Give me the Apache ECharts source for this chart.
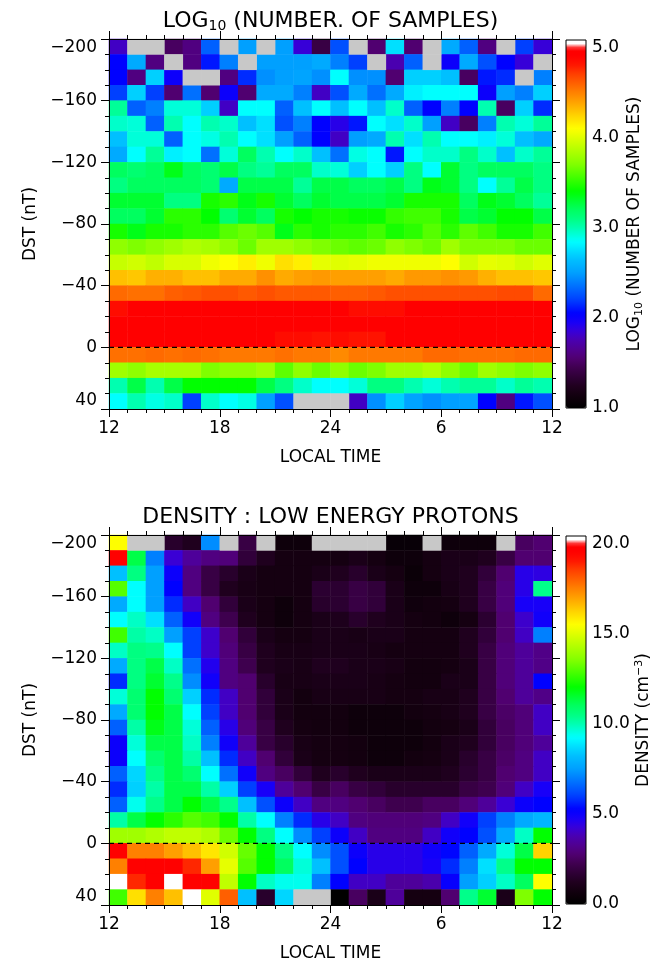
<!DOCTYPE html>
<html>
<head>
<meta charset="utf-8">
<script src="https://cdn.jsdelivr.net/npm/echarts@6/dist/echarts.min.js"></script>
<style>
  html, body { margin: 0; padding: 0; background: #ffffff; }
  #chart { width: 666px; height: 963px; }
</style>
</head>
<body>
<div id="chart"></div>
<script>
// Local-time bins (hour at the start of each 1-hour bin), noon to noon
const lstHours = [12, 13, 14, 15, 16, 17, 18, 19, 20, 21, 22, 23, 0, 1, 2, 3, 4, 5, 6, 7, 8, 9, 10, 11];
// Dst bins (lower edge, nT), from the most disturbed at the top to positive values at the bottom
const dstBins = [-200, -190, -180, -170, -160, -150, -140, -130, -120, -110, -100, -90,
                 -80, -70, -60, -50, -40, -30, -20, -10, 0, 10, 20, 30];
// Labels of the major local-time ticks (12, 18, 24, 30, 36 hours from midnight of day 0)
const localTimeTicks = ['12', '18', '24', '6', '12'];
// Dst level drawn as a dashed reference line
const dstReference = 0;

// log10(number of samples) per cell; null = no samples
const logSamples = [
  [1.8, null, null, 1.5, 1.6, 2.3, null, 2.5, null, 2.5, 1.85, 1.4, 2.25, null, 1.55, 2.75, 1.55, null, 2.55, 2.3, 1.6, null, 2.2, 1.85],
  [2.05, 2.55, 1.6, null, 1.6, 2.1, 2.4, null, 2.5, 2.5, 2.5, 2.55, 2.4, 2.2, null, 1.75, 2.3, null, 2.0, 2.55, 2.25, 2.05, 1.85, null],
  [2.05, 1.6, 2.7, 2.0, null, null, 1.6, 2.15, 2.45, 2.5, 2.52, 2.45, 2.85, 2.45, 2.45, 1.55, 2.7, 2.7, 2.65, 1.5, 2.1, 2.15, null, 2.4],
  [2.2, 2.7, 2.2, 1.55, 2.35, 1.55, 2.0, 1.55, 2.55, 2.55, 2.4, 1.8, 2.25, 2.55, 2.35, 2.55, 2.8, 2.85, 2.85, 2.85, 2.0, 2.5, 2.4, 2.7],
  [3.05, 2.3, 2.4, 2.92, 2.92, 2.7, 1.8, 2.85, 2.85, 2.3, 2.65, 2.85, 2.65, 2.85, 2.65, 2.95, 2.3, 2.05, 2.4, 2.05, 3.0, 1.5, 2.7, 2.15],
  [2.95, 2.92, 2.3, 3.0, 2.85, 3.0, 2.95, 2.65, 2.75, 2.25, 2.4, 2.05, 1.9, 2.1, 2.85, 2.75, 2.95, 2.5, 1.8, 1.5, 2.4, 3.0, 2.92, 3.05],
  [2.65, 2.92, 2.92, 2.3, 2.85, 2.9, 3.0, 2.85, 2.75, 2.5, 2.3, 2.05, 1.8, 2.5, 2.55, 3.0, 2.75, 3.0, 2.85, 2.85, 2.8, 2.92, 2.65, 2.55],
  [2.55, 2.85, 3.05, 2.8, 2.85, 2.35, 2.92, 3.2, 3.0, 2.85, 2.95, 2.65, 2.35, 2.9, 2.85, 2.1, 2.85, 2.95, 2.95, 3.1, 2.95, 2.65, 2.95, 3.05],
  [3.2, 3.15, 3.2, 3.35, 3.2, 3.15, 3.25, 3.1, 3.05, 3.2, 3.2, 2.95, 2.92, 2.7, 2.85, 2.7, 3.1, 2.85, 3.3, 3.1, 3.2, 3.2, 3.2, 3.1],
  [3.1, 3.2, 3.2, 3.2, 3.2, 3.15, 2.55, 3.25, 3.25, 3.25, 3.05, 3.25, 3.25, 3.2, 3.2, 3.25, 3.1, 3.35, 3.3, 3.1, 2.85, 3.05, 3.25, 3.1],
  [3.3, 3.3, 3.3, 3.1, 3.1, 3.45, 3.5, 3.35, 3.45, 3.3, 3.2, 3.3, 3.25, 3.25, 3.25, 3.3, 3.45, 3.45, 3.45, 3.2, 3.35, 3.3, 3.2, 3.05],
  [3.2, 3.2, 3.3, 3.5, 3.5, 3.4, 3.15, 3.3, 3.2, 3.45, 3.4, 3.45, 3.45, 3.42, 3.42, 3.52, 3.55, 3.55, 3.45, 3.25, 3.3, 3.4, 3.4, 3.25],
  [3.45, 3.35, 3.45, 3.45, 3.5, 3.5, 3.6, 3.65, 3.6, 3.35, 3.5, 3.45, 3.5, 3.5, 3.55, 3.45, 3.5, 3.6, 3.5, 3.62, 3.55, 3.45, 3.45, 3.55],
  [3.75, 3.7, 3.75, 3.8, 3.85, 3.82, 3.75, 3.65, 3.8, 3.8, 3.75, 3.7, 3.65, 3.62, 3.65, 3.75, 3.7, 3.65, 3.8, 3.7, 3.7, 3.7, 3.65, 3.65],
  [3.92, 3.95, 3.9, 3.97, 3.97, 4.05, 4.1, 4.15, 4.05, 4.2, 4.15, 4.02, 4.0, 4.02, 4.05, 4.05, 4.05, 4.05, 4.1, 3.95, 4.02, 4.0, 3.95, 4.0],
  [4.3, 4.28, 4.35, 4.35, 4.3, 4.3, 4.37, 4.37, 4.45, 4.37, 4.4, 4.42, 4.4, 4.4, 4.4, 4.37, 4.42, 4.42, 4.45, 4.42, 4.35, 4.3, 4.3, 4.28],
  [4.57, 4.55, 4.55, 4.6, 4.62, 4.65, 4.65, 4.62, 4.65, 4.62, 4.62, 4.62, 4.6, 4.6, 4.62, 4.65, 4.65, 4.65, 4.65, 4.65, 4.65, 4.67, 4.67, 4.57],
  [4.85, 4.92, 4.92, 4.92, 4.92, 4.92, 4.92, 4.92, 4.92, 4.92, 4.92, 4.92, 4.92, 4.85, 4.85, 4.85, 4.92, 4.92, 4.92, 4.92, 4.92, 4.92, 4.92, 4.92],
  [4.95, 4.95, 4.95, 4.95, 4.95, 4.95, 4.95, 4.95, 4.95, 4.95, 4.95, 4.95, 4.95, 4.95, 4.95, 4.95, 4.95, 4.95, 4.95, 4.95, 4.95, 4.95, 4.95, 4.95],
  [4.92, 4.92, 4.92, 4.92, 4.92, 4.92, 4.92, 4.92, 4.92, 4.85, 4.85, 4.82, 4.85, 4.82, 4.82, 4.92, 4.92, 4.92, 4.92, 4.92, 4.92, 4.92, 4.92, 4.92],
  [4.55, 4.55, 4.57, 4.55, 4.57, 4.55, 4.52, 4.52, 4.52, 4.55, 4.52, 4.52, 4.47, 4.52, 4.52, 4.52, 4.52, 4.57, 4.57, 4.55, 4.55, 4.55, 4.57, 4.57],
  [3.8, 3.75, 3.82, 3.82, 3.82, 3.7, 3.75, 3.75, 3.8, 3.62, 3.75, 3.65, 3.75, 3.65, 3.7, 3.8, 3.8, 3.85, 3.75, 3.65, 3.8, 3.75, 3.7, 3.75],
  [3.0, 3.25, 3.0, 3.25, 3.4, 3.4, 3.4, 3.4, 3.25, 3.1, 2.95, 2.85, 2.85, 2.92, 3.1, 3.1, 3.0, 2.92, 3.0, 3.05, 3.05, 2.95, 3.05, 3.0],
  [2.85, 3.0, 2.9, 2.95, 2.2, 2.95, 2.85, 2.9, 2.5, 2.25, null, null, null, 1.8, 2.45, 2.7, 2.52, 2.45, 2.5, 2.52, 2.05, 1.6, 2.1, 2.25]
];

// Low-energy proton density (cm^-3) per cell; null = no data
const density = [
  [15.5, null, null, 1.5, 1.2, 7.2, null, 2.0, null, 0.5, 0.5, null, null, null, null, 0.3, 0.3, null, 0.5, 0.5, 0.5, null, 2.5, 2.75],
  [19.5, 11.25, 7.0, 4.2, 3.4, 3.0, 2.9, 1.8, 1.2, 0.8, 0.8, 0.8, 0.8, 1.0, 0.8, 0.5, 0.5, 0.8, 1.0, 1.0, 1.2, 2.0, 2.75, 2.75],
  [8.25, 10.5, 7.5, 5.0, 3.0, 2.0, 1.5, 1.0, 0.8, 0.8, 0.8, 1.0, 1.2, 1.5, 1.0, 0.8, 0.4, 0.8, 1.0, 1.2, 1.8, 2.75, 4.5, 4.4],
  [13.0, 9.25, 7.5, 5.25, 3.0, 2.0, 1.2, 0.9, 0.8, 0.8, 0.8, 1.6, 1.6, 2.0, 1.8, 1.0, 0.5, 0.5, 0.9, 1.2, 2.0, 2.9, 4.5, 10.4],
  [7.75, 9.25, 7.5, 5.75, 4.0, 2.75, 1.8, 1.0, 0.8, 0.5, 0.8, 1.5, 1.6, 2.0, 1.8, 1.0, 0.6, 0.7, 0.8, 1.2, 2.0, 2.9, 4.75, 4.75],
  [9.25, 9.8, 8.75, 6.5, 4.9, 3.0, 2.2, 1.2, 0.8, 0.5, 0.8, 1.0, 1.1, 1.5, 1.2, 1.0, 0.8, 0.7, 0.5, 0.8, 1.6, 2.75, 4.1, 4.9],
  [12.75, 10.1, 9.8, 7.5, 6.0, 4.1, 2.75, 1.8, 1.0, 0.8, 0.8, 1.0, 1.0, 0.9, 1.0, 1.0, 0.8, 0.8, 0.8, 1.2, 1.8, 2.75, 4.0, 7.0],
  [9.8, 10.5, 10.4, 9.25, 6.0, 4.1, 2.9, 2.0, 1.2, 0.9, 0.9, 1.0, 1.0, 1.0, 0.9, 0.8, 0.8, 0.8, 0.8, 1.2, 2.0, 2.9, 3.4, 3.1],
  [7.75, 10.5, 11.25, 9.8, 6.75, 4.6, 3.0, 2.2, 1.2, 1.0, 0.9, 1.2, 1.2, 1.0, 1.0, 0.9, 0.7, 0.7, 0.8, 1.0, 2.0, 2.9, 3.4, 3.1],
  [5.75, 10.5, 11.5, 10.4, 7.2, 4.9, 3.0, 2.75, 1.5, 0.9, 0.9, 1.0, 1.0, 1.0, 0.9, 0.8, 0.7, 0.7, 1.0, 1.0, 2.0, 2.9, 3.4, 5.25],
  [9.6, 10.75, 12.0, 10.75, 8.5, 5.75, 4.0, 2.75, 1.8, 1.0, 0.7, 0.9, 0.9, 0.9, 0.9, 0.8, 0.8, 0.9, 0.9, 1.2, 2.0, 2.75, 3.4, 3.1],
  [7.75, 10.75, 12.0, 11.25, 9.25, 6.0, 4.0, 2.75, 1.8, 1.0, 0.7, 0.7, 0.7, 0.5, 0.5, 0.5, 0.7, 0.8, 0.9, 1.2, 2.0, 2.6, 2.9, 4.0],
  [6.5, 10.1, 11.75, 11.25, 9.6, 6.5, 4.5, 2.9, 2.0, 1.2, 0.8, 0.7, 0.7, 0.5, 0.5, 0.5, 0.5, 0.7, 0.8, 1.0, 1.8, 2.5, 2.9, 4.0],
  [5.0, 9.6, 11.25, 11.25, 9.8, 7.0, 4.9, 3.4, 2.0, 1.5, 0.9, 0.8, 0.8, 0.7, 0.5, 0.5, 0.5, 0.7, 1.0, 1.2, 1.8, 2.5, 2.9, 3.4],
  [5.0, 9.25, 10.75, 11.25, 10.1, 8.25, 5.75, 4.0, 2.75, 1.8, 1.0, 0.8, 0.8, 0.7, 0.5, 0.5, 0.7, 0.8, 1.0, 1.5, 2.0, 2.6, 3.0, 4.0],
  [6.5, 8.6, 10.4, 11.25, 10.75, 9.25, 6.75, 4.9, 3.0, 2.5, 1.8, 1.2, 1.5, 1.2, 1.0, 1.0, 1.0, 1.0, 1.2, 1.6, 2.0, 2.75, 3.0, 4.0],
  [5.75, 8.5, 10.1, 11.25, 11.25, 10.1, 8.5, 6.0, 4.75, 3.4, 2.75, 2.0, 2.5, 2.0, 1.8, 1.5, 1.5, 1.5, 1.5, 2.0, 2.2, 2.9, 4.0, 4.75],
  [6.5, 9.4, 10.4, 11.25, 12.0, 11.25, 10.4, 8.25, 6.25, 5.0, 4.0, 3.0, 3.0, 2.75, 2.5, 2.2, 2.2, 2.5, 2.5, 2.9, 3.4, 4.2, 5.0, 5.25],
  [10.1, 11.25, 12.0, 12.5, 13.0, 12.75, 12.0, 10.1, 9.25, 7.0, 5.75, 4.5, 4.0, 3.0, 2.9, 2.9, 2.9, 3.0, 4.0, 4.9, 6.0, 7.0, 7.75, 8.0],
  [14.0, 14.0, 14.25, 14.5, 14.5, 14.25, 13.25, 12.0, 10.5, 9.25, 7.2, 6.0, 5.0, 4.0, 3.0, 3.0, 3.0, 4.0, 4.9, 5.25, 6.25, 7.75, 9.8, 12.0],
  [19.5, 17.5, 17.5, 17.0, 16.5, 15.9, 14.75, 13.2, 12.0, 10.5, 9.25, 7.2, 6.25, 5.0, 4.5, 4.5, 4.5, 4.9, 5.3, 6.5, 7.75, 9.6, 11.25, 16.2],
  [17.5, 19.5, 19.5, 19.5, 18.8, 17.0, 15.1, 13.0, 12.0, 11.0, 9.6, 8.25, 6.25, 5.25, 4.5, 4.5, 4.5, 4.75, 5.75, 7.0, 8.75, 10.4, 12.0, 12.0],
  [21.0, 18.8, 19.5, 21.0, 19.5, 19.5, 14.5, 12.0, 9.8, 9.4, 9.4, 7.0, 5.25, 4.0, 4.0, 3.4, 3.4, 3.7, 5.1, 7.5, 8.5, 9.8, 11.0, 15.5],
  [12.75, 16.0, 17.5, 16.5, 21.0, 15.0, 18.0, 8.25, 1.5, 8.6, null, null, 0.0, 2.5, 1.0, 3.4, 0.8, 0.8, 2.75, 10.4, 11.5, 1.0, 13.5, 12.0]
];

// ---------------------------------------------------------------------------
// Styling
const FONT = 'DejaVu Sans';
const INK = '#000000';
const NO_DATA = '#c8c8c8';

// Rainbow + white colour table (fraction of the colour-bar range -> colour)
const paletteStops = [
  [0.000, '#000000'], [0.037, '#140010'], [0.061, '#200020'], [0.086, '#300038'],
  [0.110, '#400050'], [0.135, '#500070'], [0.159, '#500090'], [0.184, '#4a00b0'],
  [0.208, '#3800d8'], [0.233, '#1800f8'], [0.257, '#0000ff'], [0.294, '#0040ff'],
  [0.343, '#0080ff'], [0.368, '#00a0ff'], [0.404, '#00c0ff'], [0.429, '#00e0ff'],
  [0.453, '#00ffff'], [0.490, '#00ffb0'], [0.515, '#00ff80'], [0.539, '#00ff60'],
  [0.564, '#00ff30'], [0.588, '#00ff00'], [0.625, '#40ff00'], [0.662, '#80ff00'],
  [0.686, '#a0ff00'], [0.711, '#c0ff00'], [0.735, '#e0ff00'], [0.760, '#ffff00'],
  [0.784, '#ffe000'], [0.809, '#ffc000'], [0.833, '#ffa000'], [0.858, '#ff8000'],
  [0.882, '#ff6000'], [0.907, '#ff4000'], [0.931, '#ff1800'], [0.956, '#ff0000'],
  [0.980, '#ff0000'], [0.9815, '#ffffff'], [1.000, '#ffffff']
];

function hexToRgb(h) {
  const n = parseInt(h.slice(1), 16);
  return [(n >> 16) & 255, (n >> 8) & 255, n & 255];
}

function buildPalette(count) {
  const out = [];
  for (let i = 0; i < count; i++) {
    const f = i / (count - 1);
    let k = 0;
    while (k < paletteStops.length - 2 && paletteStops[k + 1][0] < f) k++;
    const [f0, c0] = paletteStops[k];
    const [f1, c1] = paletteStops[k + 1];
    const t = f1 > f0 ? Math.min(1, Math.max(0, (f - f0) / (f1 - f0))) : 0;
    const a = hexToRgb(c0), b = hexToRgb(c1);
    const rgb = a.map((v, j) => Math.round(v + (b[j] - v) * t));
    out.push('rgb(' + rgb.join(',') + ')');
  }
  return out;
}
const palette = buildPalette(512);

// Heatmap cells [column, row, value] and empty cells
function cellsOf(table) {
  const out = [];
  table.forEach((row, r) => row.forEach((v, c) => { if (v !== null) out.push([c, r, v]); }));
  return out;
}
function gapsOf(table) {
  const out = [];
  table.forEach((row, r) => row.forEach((v, c) => { if (v === null) out.push([c, r, 0]); }));
  return out;
}

const PLOT_LEFT = 109, PLOT_WIDTH = 443, PLOT_HEIGHT = 370;
const PLOT_TOPS = [39, 535];
const BAR_LEFT = 566, BAR_WIDTH = 20;

const lineStyle = { color: INK, width: 1 };
const labelFont = { color: INK, fontSize: 17, fontFamily: FONT };

function categoryX(g) {
  return { type: 'category', gridIndex: g, data: lstHours.map(String), show: false };
}
function categoryY(g) {
  return { type: 'category', gridIndex: g, data: dstBins.map(String), inverse: true, show: false };
}
function timeAxis(g, position, withLabels) {
  return {
    type: 'value', gridIndex: g, position, min: 12, max: 36, interval: 6, z: 5,
    axisLine: { show: true, onZero: false, lineStyle },
    axisTick: { show: true, length: 8, lineStyle },
    minorTick: { show: true, splitNumber: 6, length: 4, lineStyle },
    splitLine: { show: false }, minorSplitLine: { show: false },
    axisLabel: Object.assign({ show: withLabels, margin: 11,
      formatter: v => localTimeTicks[Math.round((v - 12) / 6)] }, labelFont),
    name: withLabels ? 'LOCAL TIME' : '',
    nameLocation: 'middle', nameGap: 40,
    nameTextStyle: { color: INK, fontSize: 17, fontFamily: FONT }
  };
}
function dstAxis(g, position, withLabels) {
  return {
    type: 'value', gridIndex: g, position, inverse: true, min: -200, max: 40, interval: 40, z: 5,
    axisLine: { show: true, onZero: false, lineStyle },
    axisTick: { show: true, length: 8, lineStyle },
    minorTick: { show: true, splitNumber: 4, length: 4, lineStyle },
    splitLine: { show: false }, minorSplitLine: { show: false },
    axisLabel: Object.assign({ show: withLabels, margin: 12,
      verticalAlignMinLabel: 'top', verticalAlignMaxLabel: 'bottom',
      formatter: v => String(v).replace('-', '\u2212') }, labelFont),
    name: withLabels ? 'DST (nT)' : '',
    nameLocation: 'middle', nameRotate: 90, nameGap: 68,
    nameTextStyle: { color: INK, fontSize: 17, fontFamily: FONT }
  };
}
function barAxis(g, min, max, interval, name, rich) {
  return {
    type: 'value', gridIndex: g, position: 'right', min, max, interval,
    axisLine: { show: false }, axisTick: { show: false }, splitLine: { show: false },
    axisLabel: Object.assign({ margin: 6, showMaxLabel: false,
      formatter: v => v.toFixed(1) }, labelFont),
    name, nameLocation: 'middle', nameRotate: 90, nameGap: 38,
    nameTextStyle: { color: INK, fontSize: 17, fontFamily: FONT, rich }
  };
}

const subRich = {
  t: { fontSize: 17, fontFamily: FONT, color: INK, lineHeight: 20, verticalAlign: 'middle' },
  s: { fontSize: 11, fontFamily: FONT, color: INK, lineHeight: 11, verticalAlign: 'bottom', padding: [11, 0, 0, 0] },
  p: { fontSize: 11, fontFamily: FONT, color: INK, lineHeight: 11, verticalAlign: 'top', padding: [0, 0, 10, 0] }
};

const titleRich = {
  t: { fontSize: 22, fontFamily: FONT, color: INK, lineHeight: 25, verticalAlign: 'middle' },
  s: { fontSize: 14, fontFamily: FONT, color: INK, lineHeight: 14, verticalAlign: 'bottom', padding: [15, 0, 0, 0] }
};

function heatSeries(xi, yi, table) {
  return {
    type: 'heatmap', xAxisIndex: xi, yAxisIndex: yi, data: cellsOf(table),
    progressive: 0, emphasis: { disabled: true }, silent: true
  };
}
function gapSeries(xi, yi, table) {
  return {
    type: 'heatmap', xAxisIndex: xi, yAxisIndex: yi, data: gapsOf(table),
    itemStyle: { color: NO_DATA }, progressive: 0, emphasis: { disabled: true }, silent: true
  };
}
function referenceLine(xi, yi) {
  return {
    type: 'line', xAxisIndex: xi, yAxisIndex: yi, symbol: 'none', silent: true, z: 6,
    data: [[12, dstReference], [36, dstReference]],
    lineStyle: { color: INK, width: 1.3, type: [5, 4] }
  };
}

const option = {
  animation: false,
  backgroundColor: '#ffffff',
  grid: [
    { left: PLOT_LEFT, top: PLOT_TOPS[0], width: PLOT_WIDTH, height: PLOT_HEIGHT },
    { left: PLOT_LEFT, top: PLOT_TOPS[1], width: PLOT_WIDTH, height: PLOT_HEIGHT },
    { left: BAR_LEFT, top: PLOT_TOPS[0] + 1, width: BAR_WIDTH, height: PLOT_HEIGHT - 2,
      show: true, borderColor: INK, borderWidth: 1, backgroundColor: 'transparent', z: 10 },
    { left: BAR_LEFT, top: PLOT_TOPS[1] + 1, width: BAR_WIDTH, height: PLOT_HEIGHT - 2,
      show: true, borderColor: INK, borderWidth: 1, backgroundColor: 'transparent', z: 10 }
  ],
  xAxis: [
    categoryX(0), timeAxis(0, 'bottom', true), timeAxis(0, 'top', false),
    categoryX(1), timeAxis(1, 'bottom', true), timeAxis(1, 'top', false),
    { type: 'value', gridIndex: 2, min: 0, max: 1, show: false },
    { type: 'value', gridIndex: 3, min: 0, max: 1, show: false }
  ],
  yAxis: [
    categoryY(0), dstAxis(0, 'left', true), dstAxis(0, 'right', false),
    categoryY(1), dstAxis(1, 'left', true), dstAxis(1, 'right', false),
    barAxis(2, 1, 5.08, 1, '{t|LOG}{s|10}{t| (NUMBER OF SAMPLES)}', subRich),
    barAxis(3, 0, 20.4, 5, '{t|DENSITY (cm}{p|\u22123}{t|)}', subRich)
  ],
  visualMap: [
    { type: 'continuous', seriesIndex: 0, min: 1, max: 5.08, calculable: false, realtime: false,
      orient: 'vertical', left: BAR_LEFT, top: PLOT_TOPS[0] + 1, itemWidth: BAR_WIDTH,
      itemHeight: PLOT_HEIGHT - 2, padding: 0, text: null, inRange: { color: palette } },
    { type: 'continuous', seriesIndex: 3, min: 0, max: 20.4, calculable: false, realtime: false,
      orient: 'vertical', left: BAR_LEFT, top: PLOT_TOPS[1] + 1, itemWidth: BAR_WIDTH,
      itemHeight: PLOT_HEIGHT - 2, padding: 0, text: null, inRange: { color: palette } }
  ],
  series: [
    heatSeries(0, 0, logSamples), gapSeries(0, 0, logSamples), referenceLine(1, 1),
    heatSeries(3, 3, density), gapSeries(3, 3, density), referenceLine(4, 4)
  ],
  graphic: [
    { type: 'text', x: PLOT_LEFT + PLOT_WIDTH / 2, y: 21, silent: true,
      style: { text: '{t|LOG}{s|10}{t| (NUMBER. OF SAMPLES)}', rich: titleRich,
               align: 'center', verticalAlign: 'middle' } },
    { type: 'text', x: PLOT_LEFT + PLOT_WIDTH / 2, y: 517, silent: true,
      style: { text: '{t|DENSITY : LOW ENERGY PROTONS}', rich: titleRich,
               align: 'center', verticalAlign: 'middle' } }
  ]
};

const chart = echarts.init(document.getElementById('chart'), null, { renderer: 'canvas' });
chart.setOption(option);
</script>
</body>
</html>
